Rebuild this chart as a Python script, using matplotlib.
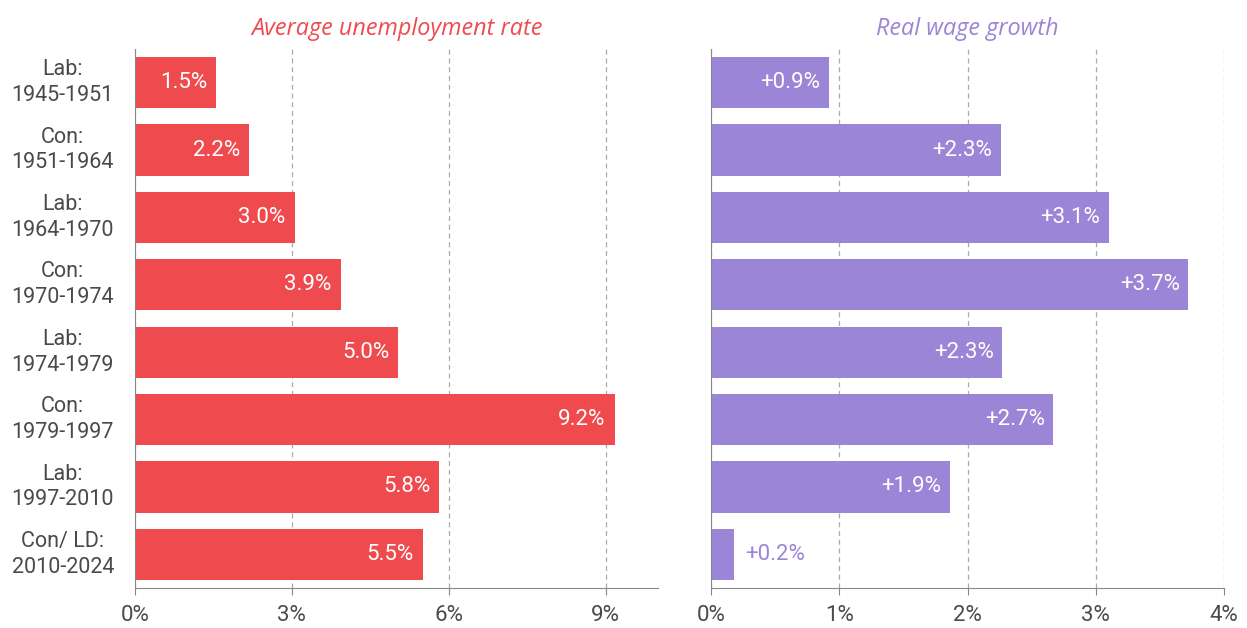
import matplotlib
matplotlib.use("Agg")
import matplotlib.pyplot as plt

# data
periods = ["Lab:\n1945-1951", "Con:\n1951-1964", "Lab:\n1964-1970", "Con:\n1970-1974",
           "Lab:\n1974-1979", "Con:\n1979-1997", "Lab:\n1997-2010", "Con/ LD:\n2010-2024"]
unemployment = [1.55, 2.18, 3.05, 3.93, 5.03, 9.17, 5.82, 5.5]
unemp_labels = ["1.5%", "2.2%", "3.0%", "3.9%", "5.0%", "9.2%", "5.8%", "5.5%"]
wage_growth = [0.92, 2.26, 3.10, 3.72, 2.27, 2.67, 1.86, 0.18]
wage_labels = ["+0.9%", "+2.3%", "+3.1%", "+3.7%", "+2.3%", "+2.7%", "+1.9%", "+0.2%"]

red = "#EF4B4E"
purple = "#9B85D6"
grey = "#4a4a4a"

plt.rcParams["font.family"] = ["Roboto", "DejaVu Sans"]

fig = plt.figure(figsize=(12.47, 6.28), dpi=100)
ax1 = fig.add_axes([135 / 1247, 40 / 628, 523 / 1247, 539 / 628])
ax2 = fig.add_axes([711 / 1247, 40 / 628, 513 / 1247, 539 / 628])

y = list(range(len(periods)))


def style(ax, xmax, ticks):
    ax.set_xlim(0, xmax)
    ax.set_ylim(len(periods) - 0.5, -0.5)
    ax.set_xticks(ticks)
    ax.set_xticklabels([f"{t}%" for t in ticks], fontsize=16, color=grey)
    ax.xaxis.grid(True, linestyle=(0, (4, 3)), color="#aaaaaa", linewidth=0.9)
    ax.set_axisbelow(True)
    for s in ["top", "right"]:
        ax.spines[s].set_visible(False)
    ax.spines["bottom"].set_color("#888888")
    ax.spines["left"].set_color("#888888")
    ax.tick_params(axis="x", length=5, color="#888888", pad=7)
    ax.tick_params(axis="y", length=0)


style(ax1, 10, [0, 3, 6, 9])
style(ax2, 4, [0, 1, 2, 3, 4])

ax1.barh(y, unemployment, height=0.76, color=red)
ax1.set_yticks(y)
ax1.set_yticklabels(periods, fontsize=15.5, color=grey, ha="center", va="center",
                    linespacing=1.3)
ax1.tick_params(axis="y", pad=52)
for yi, v, lab in zip(y, unemployment, unemp_labels):
    ax1.text(v - 0.17, yi, lab, ha="right", va="center", color="white", fontsize=16)

ax2.barh(y, wage_growth, height=0.76, color=purple)
ax2.set_yticks(y)
ax2.set_yticklabels([])
for yi, v, lab in zip(y, wage_growth, wage_labels):
    if v < 0.5:
        ax2.text(v + 0.085, yi, lab, ha="left", va="center", color=purple, fontsize=16)
    else:
        ax2.text(v - 0.065, yi, lab, ha="right", va="center", color="white", fontsize=16)

ax1.set_title("Average unemployment rate", color=red, fontsize=16.8, style="italic",
              family=["Open Sans", "DejaVu Sans"], pad=10)
ax2.set_title("Real wage growth", color=purple, fontsize=16.8, style="italic",
              family=["Open Sans", "DejaVu Sans"], pad=10)

fig.savefig("out.png", dpi=100)
